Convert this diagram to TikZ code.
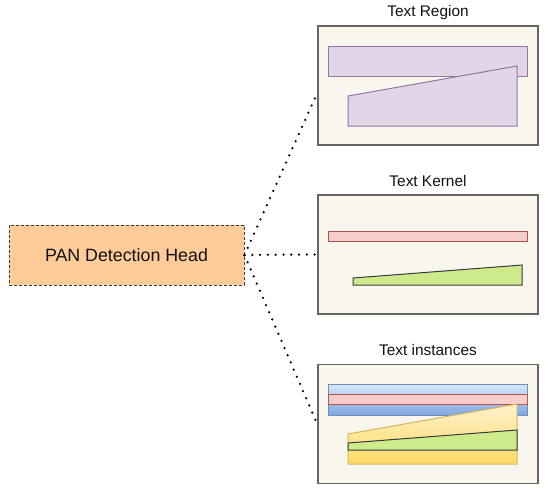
\documentclass[tikz,border=0pt]{standalone}
\usepackage{fontspec}
\setmainfont{Liberation Sans}
\usepackage{tikz}
\usetikzlibrary{positioning,calc}

\definecolor{panfill}{HTML}{FFCC99}
\definecolor{darkline}{HTML}{36393D}
\definecolor{panelfill}{HTML}{F9F7ED}
\definecolor{panelline}{HTML}{666666}
\definecolor{purplefill}{HTML}{E1D5E7}
\definecolor{purpleline}{HTML}{9673A6}
\definecolor{pinkfill}{HTML}{F8CECC}
\definecolor{pinkline}{HTML}{B85450}
\definecolor{greenfill}{HTML}{CDEB8B}
\definecolor{bluetop}{HTML}{DAE8FC}
\definecolor{bluebot}{HTML}{7EA6E0}
\definecolor{blueline}{HTML}{6C8EBF}
\definecolor{yellowtop}{HTML}{FFF2CC}
\definecolor{yellowbot}{HTML}{FFD966}
\definecolor{yellowline}{HTML}{D6B656}
\definecolor{textcol}{HTML}{111111}

\begin{document}
\begin{tikzpicture}[x=1pt,y=1pt,text=textcol,
  panel/.style={draw=panelline,fill=panelfill,line width=1.5pt,minimum width=220pt,minimum height=119pt,inner sep=0pt},
  title/.style={anchor=base,font=\fontsize{15.4}{18}\selectfont,inner sep=0pt},
  headbox/.style={draw=darkline,fill=panfill,line width=1pt,dash pattern=on 3pt off 2pt,minimum width=235pt,minimum height=60pt,inner sep=0pt,font=\fontsize{17.8}{20}\selectfont},
  link/.style={line width=2.5pt,line cap=round,dash pattern=on 0pt off 7.8pt}]
  \useasboundingbox (0,0) rectangle (550,-493);

  % detection head and the three output maps
  \node[headbox] (pan) at (126.5,-255) {PAN Detection Head};
  \node[panel] (region) at (428,-85.5) {};
  \node[panel] (kernel) at (428,-254.5) {};
  \node[panel] (instances) at (428,-424) {};
  \node[title] at ([yshift=8.5pt]region.north) {Text Region};
  \node[title] at ([yshift=8pt]kernel.north) {Text Kernel};
  \node[title] at ([yshift=8pt]instances.north) {Text instances};

  % text region
  \filldraw[fill=purplefill,draw=purpleline,line width=1pt] (328,-46) rectangle (527,-76);
  \filldraw[fill=purplefill,draw=purpleline,line width=1pt] (348,-96) -- (517,-66) -- (517,-126) -- (348,-126) -- cycle;

  % text kernel
  \filldraw[fill=pinkfill,draw=pinkline,line width=1pt] (328,-231) rectangle (527,-241);
  \filldraw[fill=greenfill,draw=darkline,line width=1pt] (353,-278) -- (522,-265) -- (522,-285) -- (353,-285) -- cycle;

  % text instances
  \draw[top color=bluetop,bottom color=bluebot,draw=blueline,line width=1pt] (328,-384) rectangle (527,-415);
  \filldraw[fill=pinkfill,draw=pinkline,line width=1pt] (328,-394) rectangle (527,-404);
  \draw[top color=yellowtop,bottom color=yellowbot,draw=yellowline,line width=1pt] (348,-434) -- (517,-404) -- (517,-464) -- (348,-464) -- cycle;
  \filldraw[fill=greenfill,draw=darkline,line width=1pt] (348,-443) -- (517,-430) -- (517,-450) -- (348,-450) -- cycle;

  % connectors
  \draw[link] (pan.east) -- ([yshift=-7.5pt]region.west);
  \draw[link] (pan.east) -- (kernel.west);
  \draw[link] (pan.east) -- (instances.west);
\end{tikzpicture}
\end{document}
